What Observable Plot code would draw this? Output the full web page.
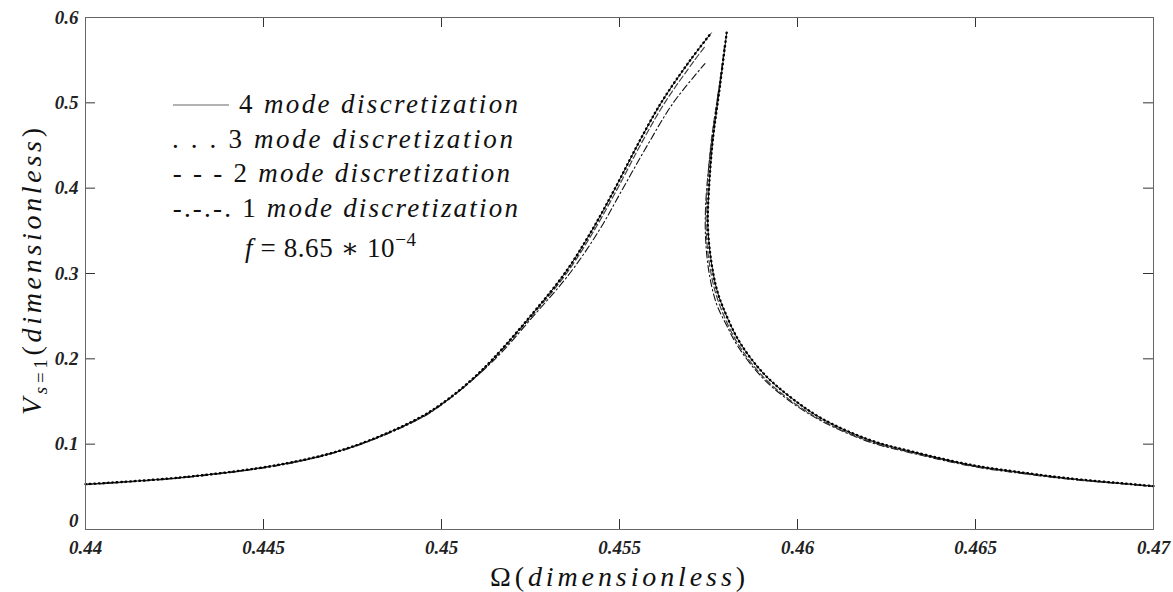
<!DOCTYPE html>
<html><head><meta charset="utf-8">
<script src="https://cdn.jsdelivr.net/npm/d3@7"></script>
<script src="https://cdn.jsdelivr.net/npm/@observablehq/plot@0.6"></script>
<style>
html,body{margin:0;padding:0;background:#fff;}
#wrap{position:relative;width:1173px;height:592px;}
#overlay{position:absolute;left:0;top:0;pointer-events:none;font-family:"Liberation Serif","Times New Roman",Times,"DejaVu Serif",serif;}
</style></head><body>
<div id="wrap"></div>
<script>
// ---- tick labels ----
const xTicks = [0.44, 0.445, 0.45, 0.455, 0.46, 0.465, 0.47];
const yTicks = [0, 0.1, 0.2, 0.3, 0.4, 0.5, 0.6];

// ---- legend ----
const legendMarks = ["", ". . .", "- - -", "-.-.-."];
const legendNums = ["4", "3", "2", "1"];
const legendWords = "mode discretization";

// ---- 4 mode discretization (solid) ----
const omega4Left = [0.44000, 0.44278, 0.44559, 0.44746, 0.44933, 0.45010, 0.45083, 0.45145, 0.45250, 0.45346, 0.45422, 0.45488, 0.45550, 0.45617, 0.45699, 0.45758];
const v4Left     = [0.0530, 0.0613, 0.0770, 0.0965, 0.1297, 0.1500, 0.1747, 0.2000, 0.2500, 0.3000, 0.3500, 0.4000, 0.4500, 0.5000, 0.5500, 0.5820];
const omega4Right = [0.45801, 0.45782, 0.45762, 0.45751, 0.45748, 0.45756, 0.45774, 0.45802, 0.45840, 0.45905, 0.45980, 0.46070, 0.46205, 0.46327, 0.46495, 0.46608, 0.46758, 0.46945, 0.47000];
const v4Right     = [0.5820, 0.5190, 0.4560, 0.3970, 0.3580, 0.3190, 0.2800, 0.2490, 0.2177, 0.1825, 0.1550, 0.1295, 0.1044, 0.0907, 0.0750, 0.0680, 0.0600, 0.0528, 0.0508];

// ---- 3 mode discretization (dotted) ----
const omega3Left = [0.44000, 0.44278, 0.44559, 0.44746, 0.44933, 0.45010, 0.45083, 0.45145, 0.45250, 0.45346, 0.45422, 0.45488, 0.45550, 0.45617, 0.45699, 0.45758];
const v3Left     = [0.0531, 0.0614, 0.0771, 0.0966, 0.1298, 0.1502, 0.1749, 0.2002, 0.2502, 0.3002, 0.3502, 0.4002, 0.4502, 0.5002, 0.5502, 0.5822];
const omega3Right = [0.45801, 0.45782, 0.45762, 0.45751, 0.45748, 0.45756, 0.45774, 0.45802, 0.45840, 0.45905, 0.45980, 0.46070, 0.46205, 0.46327, 0.46495, 0.46608, 0.46758, 0.46945, 0.47000];
const v3Right     = [0.5822, 0.5192, 0.4562, 0.3972, 0.3582, 0.3192, 0.2802, 0.2492, 0.2179, 0.1827, 0.1552, 0.1297, 0.1046, 0.0908, 0.0751, 0.0681, 0.0601, 0.0529, 0.0508];

// ---- 2 mode discretization (dashed) ----
const omega2Left = [0.44000, 0.44278, 0.44559, 0.44746, 0.44934, 0.45011, 0.45085, 0.45147, 0.45253, 0.45351, 0.45428, 0.45495, 0.45558, 0.45627, 0.45711, 0.45742];
const v2Left     = [0.0530, 0.0613, 0.0769, 0.0963, 0.1293, 0.1500, 0.1745, 0.2000, 0.2500, 0.3000, 0.3500, 0.4000, 0.4500, 0.5000, 0.5500, 0.5670];
const omega2Right = [0.45795, 0.45780, 0.45758, 0.45746, 0.45743, 0.45750, 0.45768, 0.45796, 0.45835, 0.45900, 0.45975, 0.46070, 0.46205, 0.46327, 0.46495, 0.46608, 0.46758, 0.46945, 0.47000];
const v2Right     = [0.5670, 0.5190, 0.4560, 0.3970, 0.3580, 0.3190, 0.2800, 0.2480, 0.2160, 0.1805, 0.1530, 0.1275, 0.1030, 0.0897, 0.0742, 0.0673, 0.0595, 0.0525, 0.0505];

// ---- 1 mode discretization (dash-dot) ----
const omega1Left = [0.44000, 0.44278, 0.44559, 0.44746, 0.44935, 0.45013, 0.45151, 0.45258, 0.45360, 0.45442, 0.45510, 0.45578, 0.45651, 0.45740];
const v1Left     = [0.0525, 0.0608, 0.0763, 0.0958, 0.1290, 0.1500, 0.2000, 0.2500, 0.3000, 0.3500, 0.4000, 0.4500, 0.5000, 0.5460];
const omega1Right = [0.45790, 0.45770, 0.45752, 0.45742, 0.45742, 0.45752, 0.45772, 0.45800, 0.45835, 0.45900, 0.45975, 0.46070, 0.46205, 0.46327, 0.46495, 0.46608, 0.46758, 0.46945, 0.47000];
const v1Right     = [0.5460, 0.4900, 0.4300, 0.3800, 0.3400, 0.3000, 0.2650, 0.2400, 0.2130, 0.1785, 0.1515, 0.1265, 0.1022, 0.0890, 0.0737, 0.0668, 0.0592, 0.0523, 0.0503];

function rows(mode, branch, om, v) {
  return om.map((o, i) => ({mode, branch, omega: o, v: v[i]}));
}
const data4 = [...rows(4, "L", omega4Left, v4Left), ...rows(4, "R", omega4Right, v4Right)];
const data3 = [...rows(3, "L", omega3Left, v3Left), ...rows(3, "R", omega3Right, v3Right)];
const data2 = [...rows(2, "L", omega2Left, v2Left), ...rows(2, "R", omega2Right, v2Right)];
const data1 = [...rows(1, "L", omega1Left, v1Left), ...rows(1, "R", omega1Right, v1Right)];

const W = 1173, H = 592, mL = 85, mR = 20, mT = 17, mB = 63;
const plotW = W - mL - mR, plotH = H - mT - mB, tickLen = 10;
const serif = '"Liberation Serif","Times New Roman",Times,"DejaVu Serif",serif';

const chart = Plot.plot({
  width: W, height: H,
  marginLeft: mL, marginRight: mR, marginTop: mT, marginBottom: mB,
  x: {domain: [0.44, 0.47]},
  y: {domain: [0, 0.6]},
  style: {fontFamily: serif, fontSize: "19px", fontWeight: "bold", fontStyle: "italic", color: "#222", background: "#fff"},
  marks: [
    Plot.line(data1, {x: "omega", y: "v", z: "branch", stroke: "#111", strokeWidth: 1.1, strokeDasharray: "7,3,1.5,3", curve: "catmull-rom"}),
    Plot.line(data2, {x: "omega", y: "v", z: "branch", stroke: "#444", strokeWidth: 1.2, strokeDasharray: "6,3", curve: "catmull-rom"}),
    Plot.line(data4, {x: "omega", y: "v", z: "branch", stroke: "#1a1a1a", strokeWidth: 1, curve: "catmull-rom"}),
    Plot.line(data3, {x: "omega", y: "v", z: "branch", stroke: "#000", strokeWidth: 2.4, strokeDasharray: "0.5,4", strokeLinecap: "round", curve: "catmull-rom"}),
    Plot.tickX(xTicks, {x: d => d, insetTop: plotH - tickLen, stroke: "#333"}),
    Plot.tickX(xTicks, {x: d => d, insetBottom: plotH - tickLen, stroke: "#333"}),
    Plot.tickY(yTicks, {y: d => d, insetRight: plotW - tickLen, stroke: "#333"}),
    Plot.tickY(yTicks, {y: d => d, insetLeft: plotW - tickLen, stroke: "#333"}),
    Plot.axisX({ticks: xTicks, anchor: "bottom", tickSize: 0, tickPadding: 11, tickFormat: d => String(d), label: null}),
    Plot.axisY({ticks: yTicks.slice(1), anchor: "left", tickSize: 0, tickPadding: 7, tickFormat: d => String(d), label: null}),
    Plot.axisY({ticks: yTicks.slice(0, 1), anchor: "left", tickSize: 0, tickPadding: 7, dy: -9, tickFormat: d => String(d), label: null}),
    Plot.frame({stroke: "#666"})
  ]
});
const wrap = document.getElementById("wrap");
wrap.appendChild(chart);

// ---- overlay: legend and axis titles ----
const rowBase = [113.3, 148.3, 181.7, 216.7];
const rowStart = [239, 172, 172.7, 172.7];
const rowEnd = [518, 513, 510, 518];
let legendSvg = `<line x1="173" y1="105" x2="229" y2="105" stroke="#666" stroke-width="1.2"/>`;
for (let i = 0; i < 4; i++) {
  const pre = (legendMarks[i] ? legendMarks[i] + " " : "") + legendNums[i] + " ";
  legendSvg += `<text x="${rowStart[i]}" y="${rowBase[i]}" font-size="27" textLength="${rowEnd[i] - rowStart[i]}" lengthAdjust="spacing" xml:space="preserve"><tspan>${pre}</tspan><tspan font-style="italic">${legendWords}</tspan></text>`;
}
legendSvg += `<text x="245" y="256.7" font-size="27" letter-spacing="0.6"><tspan font-style="italic">f</tspan><tspan> = 8.65 ∗ 10</tspan><tspan font-size="19" dy="-11">−4</tspan></text>`;

const titles = `
<text x="490" y="586" font-size="28" textLength="255" lengthAdjust="spacing"><tspan>Ω(</tspan><tspan font-style="italic">dimensionless</tspan><tspan>)</tspan></text>
<text transform="translate(41,415) rotate(-90)" font-size="28" textLength="287" lengthAdjust="spacing"><tspan font-style="italic">V</tspan><tspan font-size="19" dy="6"><tspan font-style="italic">s</tspan>=1</tspan><tspan dy="-6">(</tspan><tspan font-style="italic">dimensionless</tspan><tspan>)</tspan></text>`;

wrap.insertAdjacentHTML("beforeend", `<svg id="overlay" width="${W}" height="${H}" fill="#111">${legendSvg}${titles}</svg>`);
</script>
</body></html>
